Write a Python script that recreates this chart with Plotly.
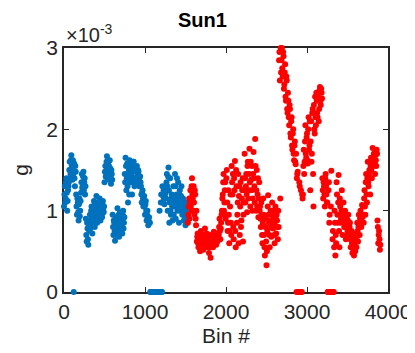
import plotly.graph_objects as go

# g values in units of 1e-3, read at 10-bin steps (first pass, bins 0,10,20,...)
blue_g = [
    1.05, 1.30, 1.15, 1.40, 1.00, 1.25,
    1.35, 1.60, 1.45, 1.68, 1.50, 1.62, 0.0, 1.40, 1.55,
    1.20, 0.95, 1.10, 0.88, 1.15, 1.00,
    1.22, 1.45, 1.30, 1.48, 1.35, 1.20,
    0.90, 0.62, 0.78, 0.58,
    0.75, 0.95, 0.82, 1.05, 0.72, 0.90, 1.12, 0.80, 1.00, 1.18, 0.85, 1.10, 0.95, 1.15, 0.88, 1.05, 0.92, 1.12, 0.98,
    1.35, 1.55, 1.42, 1.67, 1.48, 1.60, 1.38, 1.52, 1.33, 1.45,
    0.95, 0.70, 0.85, 0.63, 0.92, 0.75, 1.03, 0.80, 0.68, 0.98, 0.78, 0.90, 0.72, 1.00, 0.85,
    1.45, 1.65, 1.25, 1.58, 1.10, 1.50, 1.62, 1.35, 1.55, 1.20, 1.48, 1.60, 1.30, 1.52, 1.40, 1.55, 1.35, 1.48, 1.30, 1.42,
    1.30, 1.10, 1.25, 1.05, 1.18, 0.95, 1.12, 0.88, 1.00, 0.82, 0.92,
    0.85,
    0.0, 0.0, 0.0, 0.0, 0.0, 0.0, 0.0, 0.0, 0.0, 0.0, 0.0,
    1.00, 0.0, 1.20, 0.0, 1.10,
    1.25, 1.08, 1.30, 1.15, 1.45, 1.00, 1.53, 0.85, 1.40, 0.95, 1.20, 0.88, 1.30, 1.05,
    1.45, 0.90, 1.20, 1.00, 1.35, 0.85, 1.25, 1.10, 1.30, 0.95, 1.15, 0.88, 1.05, 0.82, 1.10, 0.90,
]
# second pass of readings, bins 5,15,25,...
blue_g2 = [
    1.20, 1.10, 1.35, 1.22, 1.12, 1.30,
    1.50, 1.40, 1.62, 1.55, 1.38, 1.45, 1.58, 1.30, 1.48,
    1.05, 1.15, 0.98, 1.08, 0.93, 1.12,
    1.35, 1.28, 1.42, 1.25, 1.40, 1.30,
    0.70, 0.85, 0.65, 0.80,
    0.88, 0.78, 1.00, 0.92, 0.85, 1.05, 0.95, 1.08, 0.88, 1.02, 0.98, 0.90, 1.05, 1.00, 1.10, 0.95, 1.08, 1.00, 1.05,
    1.48, 1.42, 1.60, 1.52, 1.40, 1.55, 1.62, 1.42, 1.50, 1.38,
    0.80, 0.88, 0.75, 0.82, 0.70, 0.88, 0.92, 0.95, 0.85, 0.72, 0.88, 0.80, 0.95, 0.78, 0.92,
    1.35, 1.55, 1.40, 1.30, 1.45, 1.20, 1.40, 1.55, 1.45, 1.35, 1.60, 1.40, 1.50, 1.38, 1.48, 1.42, 1.50, 1.38, 1.42, 1.35,
    1.20, 1.22, 1.15, 1.12, 1.05, 1.08, 1.00, 0.95, 0.90, 0.88, 0.85,
    0.0,
    0.0, 0.0, 0.0, 0.0, 0.0, 0.0, 0.0, 0.0, 0.0, 0.0, 0.0,
    0.0, 1.10, 0.0, 1.30, 1.18,
    1.15, 1.20, 1.22, 1.35, 1.30, 1.42, 1.25, 1.10, 1.00, 1.15, 1.05, 1.12, 0.95, 1.18,
    1.30, 1.10, 1.40, 1.15, 1.05, 1.20, 1.00, 1.18, 1.12, 1.08, 1.02, 0.98, 0.92, 1.00, 0.85, 0.95,
]
red_g = [
    0.85, 1.05, 0.90, 1.25, 1.00, 1.40, 1.15, 1.30, 0.95, 1.20, 0.82,
    0.62, 0.72, 0.55, 0.68, 0.50, 0.75, 0.60, 0.70, 0.52, 0.65, 0.78, 0.58, 0.72, 0.55, 0.62, 0.48, 0.70, 0.42, 0.60, 0.68, 0.55, 0.74, 0.62, 0.66, 0.58, 0.72, 0.65,
    0.70, 0.90, 0.65, 0.85, 1.00, 1.20, 1.45, 1.10, 1.35, 0.95, 1.50, 0.75, 1.25, 0.60, 1.05, 0.85,
    1.55, 1.20, 0.80, 1.40, 1.61, 0.55, 1.30, 0.95, 1.45, 1.18, 0.70, 1.35, 0.88, 1.25, 0.62, 1.10,
    1.70, 1.10, 1.45, 0.98, 1.60, 1.25, 1.76, 1.05, 1.38, 1.55, 1.15, 1.72, 1.30, 1.88, 1.00, 1.50, 1.20, 0.92, 1.35,
    1.05, 0.80, 0.95, 0.60, 1.15, 0.70, 0.45, 0.90, 0.33, 0.75, 1.19, 0.85, 0.55, 1.00, 0.68, 1.10, 0.78, 0.92, 0.60, 1.05, 0.72, 0.88, 0.65,
    0.80, 2.95, 1.15, 2.70, 3.00, 2.65, 2.90, 2.55, 2.80, 2.35, 2.60, 2.20,
    2.35, 2.05, 2.25, 1.90, 2.15, 1.75, 2.00, 1.62, 1.85, 1.57,
    0.0, 1.45, 0.0, 0.0, 1.30, 0.0, 0.0, 1.20,
    1.20, 1.75, 1.60, 2.05, 1.65, 1.95, 1.58, 2.15, 1.80, 1.25, 2.10, 1.70, 2.25, 1.05, 2.00, 2.40, 2.05, 2.35, 2.15, 2.45, 2.25, 2.52, 2.30, 2.45,
    1.40, 1.15, 1.30, 1.05, 1.45, 1.20, 1.10, 0.0, 1.35, 0.95, 0.0, 1.49, 0.0,
    0.75, 0.0, 1.00, 0.45, 0.60, 1.20, 0.85, 1.44, 0.55, 1.05, 0.90, 1.25, 0.70, 1.10, 0.80, 1.00, 0.65, 0.90, 0.75,
    0.95, 0.70, 0.85, 0.55, 0.75, 0.48, 0.65, 0.45, 0.60, 0.72, 0.55, 0.85, 0.62, 0.95, 0.70, 1.00, 0.80, 1.07,
    1.05, 0.85, 1.25, 0.95, 1.45, 1.10, 1.60, 1.30, 1.50, 1.20, 1.65, 1.40, 1.77, 1.55, 1.70, 1.45, 1.62, 1.75,
    0.88, 0.60, 0.75, 0.52,
]
red_g2 = [
    0.95, 1.15, 1.10, 1.05, 1.30, 1.20, 1.00, 1.10, 1.25, 0.90, 1.00,
    0.68, 0.60, 0.65, 0.58, 0.70, 0.62, 0.66, 0.58, 0.62, 0.70, 0.66, 0.68, 0.62, 0.64, 0.55, 0.65, 0.60, 0.55, 0.68, 0.58, 0.65, 0.62, 0.70, 0.60, 0.68, 0.62, 0.70,
    0.80, 0.75, 0.78, 0.95, 1.15, 1.35, 1.00, 1.25, 0.90, 1.40, 1.10, 0.85, 0.95, 0.75, 1.20, 0.70,
    1.35, 1.45, 0.65, 1.25, 0.75, 1.50, 0.85, 1.10, 0.60, 1.30, 1.05, 0.80, 1.15, 1.40, 0.95, 1.25,
    1.40, 1.30, 1.20, 1.55, 1.15, 1.45, 1.35, 1.60, 1.25, 1.00, 1.45, 1.40, 1.10, 1.55, 1.25, 1.05, 1.40, 1.15, 1.00,
    0.90, 1.10, 0.70, 0.85, 0.95, 0.55, 0.80, 0.62, 0.50, 1.05, 0.95, 0.70, 0.88, 0.80, 0.95, 0.85, 1.00, 0.70, 0.82, 0.90, 0.95, 0.80, 1.00,
    2.85, 2.60, 3.00, 2.85, 2.75, 2.95, 2.50, 2.70, 2.40, 2.65, 2.25, 2.45,
    2.15, 2.30, 1.95, 2.10, 1.80, 1.95, 1.70, 1.80, 1.60, 1.70,
    1.40, 1.48, 0.0, 1.35, 0.0, 1.25, 0.0, 1.15,
    1.55, 1.45, 1.85, 1.70, 1.90, 1.62, 2.00, 1.75, 2.10, 1.85, 1.60, 2.20, 1.45, 2.30, 1.95, 2.15, 2.45, 2.20, 2.40, 2.10, 2.48, 2.35, 2.50, 2.38,
    1.25, 1.35, 1.20, 1.40, 1.30, 1.10, 0.0, 1.25, 0.85, 0.0, 1.05, 0.0, 0.65,
    0.0, 0.55, 0.85, 0.70, 1.35, 0.95, 1.10, 0.75, 1.15, 0.85, 1.00, 0.95, 0.90, 0.85, 0.95, 0.80, 0.85, 0.70, 0.88,
    0.85, 0.80, 0.65, 0.70, 0.60, 0.55, 0.52, 0.58, 0.50, 0.65, 0.68, 0.75, 0.80, 0.85, 0.90, 0.88, 0.95, 0.92,
    0.95, 1.15, 1.05, 1.35, 1.20, 1.40, 1.35, 1.45, 1.40, 1.55, 1.50, 1.60, 1.65, 1.70, 1.58, 1.68, 1.55, 1.70,
    0.80, 0.70, 0.65, 0.58,
]
blue_bins = list(range(0, 1530, 10))
blue_bins2 = list(range(5, 1535, 10))
red_bins = list(range(1530, 3910, 10))
red_bins2 = list(range(1535, 3915, 10))

x_ticks = [0, 1000, 2000, 3000, 4000]
y_ticks = [0, 1, 2, 3]

FONT = "Liberation Sans, Arial, sans-serif"
AX = "#262626"
BLUE = "#0072BD"
RED = "#FF0000"

fig = go.Figure()
fig.add_trace(go.Scatter(x=blue_bins + blue_bins2, y=blue_g + blue_g2, mode="markers",
                         marker=dict(color=BLUE, size=6, line=dict(width=0)),
                         cliponaxis=False, showlegend=False))
fig.add_trace(go.Scatter(x=red_bins + red_bins2, y=red_g + red_g2, mode="markers",
                         marker=dict(color=RED, size=6, line=dict(width=0)),
                         cliponaxis=False, showlegend=False))

axis_common = dict(showgrid=False, zeroline=False, showline=True, linecolor=AX,
                   linewidth=1.5, mirror="ticks", ticks="inside", ticklen=5,
                   tickwidth=1.2, tickcolor=AX, layer="below traces",
                   tickfont=dict(family=FONT, size=21, color=AX))

fig.update_layout(
    width=415, height=353,
    margin=dict(l=54, r=26, t=40, b=69),
    paper_bgcolor="white", plot_bgcolor="white",
    title=dict(text="<b>Sun1</b>", x=0.427, xref="paper", xanchor="center",
               y=0.965, yref="container", yanchor="middle",
               font=dict(family=FONT, size=20, color="black")),
    xaxis=dict(range=[0, 4000], tickvals=x_ticks, ticktext=[str(v) for v in x_ticks],
               title=dict(text="Bin #", font=dict(family=FONT, size=21, color=AX), standoff=6),
               **axis_common),
    yaxis=dict(range=[0, 3], tickvals=y_ticks, ticktext=[str(v) for v in y_ticks],
               title=dict(text="g", font=dict(family=FONT, size=21, color=AX), standoff=12),
               **axis_common),
    annotations=[dict(text="×10<sup>-3</sup>", xref="paper", yref="paper", x=0.0, y=1.0,
                      xanchor="left", yanchor="bottom", showarrow=False,
                      font=dict(family=FONT, size=20, color=AX))],
)

fig.write_html("out.html")
